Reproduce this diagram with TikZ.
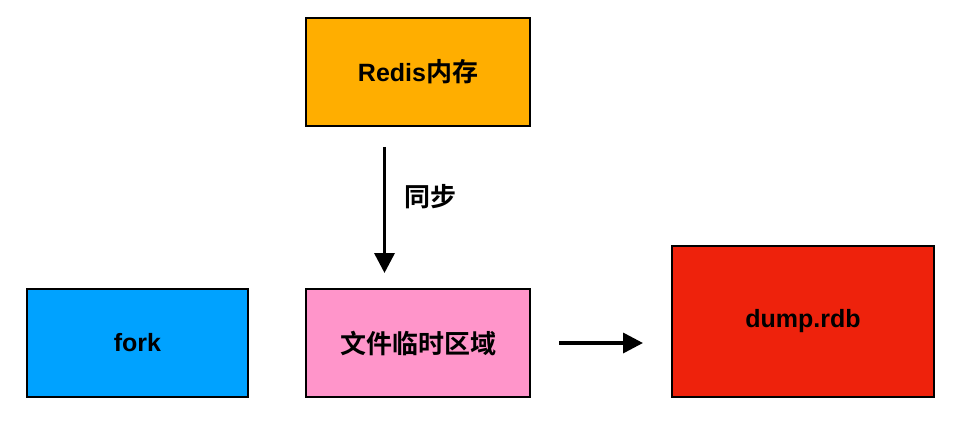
\documentclass[tikz,border=0pt]{standalone}
\usepackage{fontspec}
\setmainfont{Liberation Sans}
\newfontfamily\cjk{Noto Sans CJK SC}[BoldFont={Noto Sans CJK SC Bold},Scale=1.04]
\usetikzlibrary{arrows.meta}
\definecolor{cOrange}{HTML}{FFAE00}
\definecolor{cBlue}{HTML}{00A2FF}
\definecolor{cPink}{HTML}{FF95CA}
\definecolor{cRed}{HTML}{EE220C}
\tikzset{
  txt/.style={font=\fontsize{25}{28}\selectfont\bfseries},
  box/.style={draw=black, line width=2pt, inner sep=0pt, txt},
  conn/.style={line width=3.5pt, -{Triangle[length=20pt,width=20pt]}},
}
\begin{document}
\begin{tikzpicture}[x=1pt,y=-1pt]
\useasboundingbox (0,0) rectangle (957,422);
\node[box, fill=cOrange, minimum width=224pt, minimum height=108pt] (redis) at (418,72) {Redis{\cjk 内存}};
\node[box, fill=cBlue, minimum width=221pt, minimum height=108pt] (fork) at (137.5,343) {fork};
\node[box, fill=cPink, minimum width=224pt, minimum height=108pt] (tmp) at (418,343) {{\cjk 文件临时区域}};
\node[box, fill=cRed, minimum width=262pt, minimum height=151pt] (dump) at (803,321.5) {dump.rdb};
\coordinate (a1) at (384.5,147);
\coordinate (a2) at (384.5,273);
\draw[conn] (a1) -- (a2);
\node[txt, font=\fontsize{25}{28}\selectfont\bfseries\cjk] (lbl) at (430,197) {同步};
\coordinate (b1) at (559,343);
\coordinate (b2) at (643,343);
\draw[conn] (b1) -- (b2);
\end{tikzpicture}
\end{document}
